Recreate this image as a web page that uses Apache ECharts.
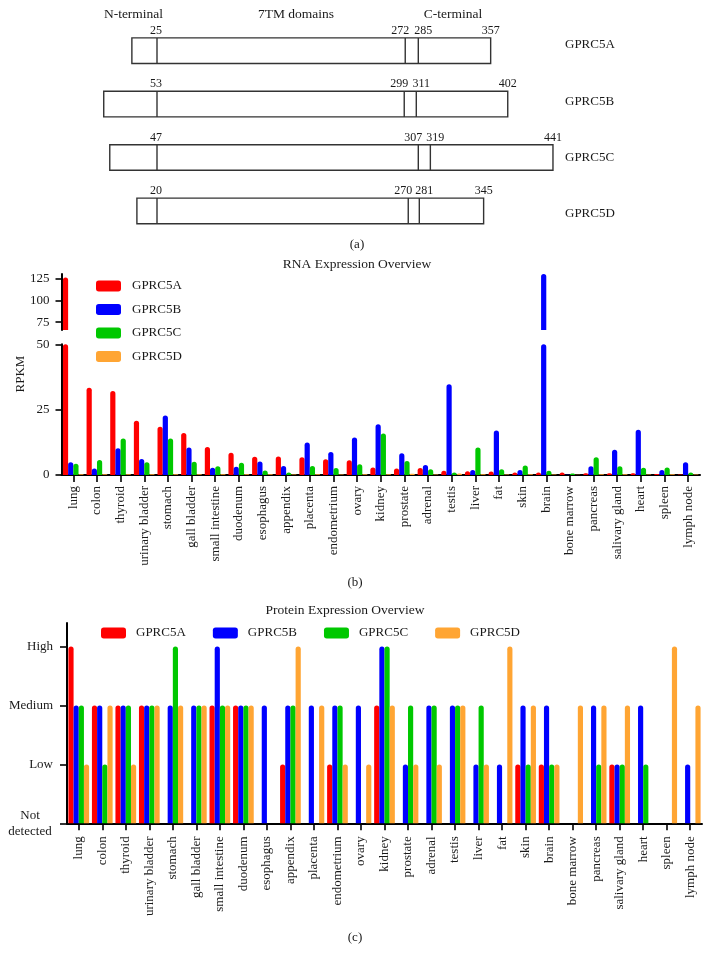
<!DOCTYPE html>
<html><head><meta charset="utf-8">
<script src="https://cdn.jsdelivr.net/npm/echarts@6/dist/echarts.min.js"></script>
<style>html,body{margin:0;padding:0;background:#fff}#c{width:716px;height:964px}</style>
</head><body><div id="c"></div>
<script>
// ---------- Panel (a) data ----------
const proteins = ['GPRC5A', 'GPRC5B', 'GPRC5C', 'GPRC5D'];
const nTermEnd = [25, 53, 47, 20];
const tmEnd = [272, 299, 307, 270];
const cTermStart = [285, 311, 319, 281];
const proteinLength = [357, 402, 441, 345];
const domainHeaders = ['N-terminal', '7TM domains', 'C-terminal'];

// ---------- Shared categories ----------
const tissues = ['lung','colon','thyroid','urinary bladder','stomach','gall bladder','small intestine','duodenum','esophagus','appendix','placenta','endometrium','ovary','kidney','prostate','adrenal','testis','liver','fat','skin','brain','bone marrow','pancreas','salivary gland','heart','spleen','lymph node'];

// ---------- Panel (b) RNA (RPKM) ----------
const rnaA = [126, 33.4, 32.1, 20.8, 18.5, 16.1, 10.7, 8.5, 7.0, 7.1, 6.8, 6.0, 5.6, 2.9, 2.5, 2.7, 1.6, 1.4, 1.3, 1.0, 1.0, 1.0, 0.7, 0.7, 0.7, 0.4, 0.2];
const rnaB = [4.9, 2.5, 10.2, 6.1, 22.8, 10.5, 2.8, 3.2, 5.2, 3.4, 12.4, 8.8, 14.3, 19.4, 8.3, 3.8, 34.7, 1.9, 17.0, 1.9, 130, 0.1, 3.3, 9.7, 17.3, 1.9, 4.9];
const rnaC = [4.3, 5.7, 14.0, 4.9, 14.0, 5.1, 3.3, 4.7, 1.7, 1.0, 3.4, 2.7, 4.1, 15.9, 5.4, 2.2, 1.0, 10.5, 2.2, 3.6, 1.6, 0.6, 6.8, 3.3, 2.8, 2.9, 1.0];
const rnaD = [0.3, 0.3, 0.3, 0.3, 0.3, 0.3, 0.3, 0.3, 0.3, 0.2, 0.3, 0.2, 0.3, 0.3, 0.5, 0.2, 0.6, 0.3, 0.2, 0.3, 0.2, 0.1, 0.3, 0.3, 0.2, 0.3, 0.2];
const rnaUpperTicks = [75, 100, 125];

// ---------- Panel (c) protein level (0 ND,1 Low,2 Medium,3 High) ----------
const levelNames = ['Not detected', 'Low', 'Medium', 'High'];
const protA = [3,2,2,2,0,0,2,2,0,1,0,1,0,2,0,0,0,0,0,1,1,0,0,1,0,0,0];
const protB = [2,2,2,2,2,2,3,2,2,2,2,2,2,3,1,2,2,1,1,2,2,0,2,1,2,0,1];
const protC = [2,1,2,2,3,2,2,2,0,2,0,2,0,3,2,2,2,2,0,1,1,0,1,1,1,0,0];
const protD = [1,2,1,2,2,2,2,2,0,3,2,1,1,2,1,1,2,1,3,2,1,2,2,2,0,3,2];

const seriesNames = ['GPRC5A', 'GPRC5B', 'GPRC5C', 'GPRC5D'];
const colors = ['#ff0000', '#0000ff', '#00c800', '#ffa533'];

const FONT = '"Liberation Serif", "Times New Roman", serif';
const TXT = '#1a1a1a';

const chart = echarts.init(document.getElementById('c'), null, {renderer: 'canvas'});

const axisLineStyle = {show: true, lineStyle: {color: '#000', width: 2}};
const tickStyle = {show: true, length: 6, lineStyle: {color: '#000', width: 1.6}};

function rnaSeries(data, i, axisIdx) {
  return {
    type: 'bar', name: seriesNames[i], data: data,
    xAxisIndex: axisIdx, yAxisIndex: axisIdx,
    barGap: '0%', barCategoryGap: '12%',
    itemStyle: {color: colors[i], borderRadius: [3, 3, 0, 0]},
    clip: true, silent: true
  };
}
const rnaData = [rnaA, rnaB, rnaC, rnaD];
const protData = [protA, protB, protC, protD];

const series = [];
// Panel (a) custom
series.push({
  type: 'custom', xAxisIndex: 0, yAxisIndex: 0, silent: true,
  encode: {x: 4, y: 0},
  data: proteins.map((p, i) => [i, nTermEnd[i], tmEnd[i], cTermStart[i], proteinLength[i]]),
  renderItem: function (params, api) {
    const idx = api.value(0);
    const off = api.value(1);
    const cy = api.coord([0, idx])[1];
    const h = api.size([0, 1])[1] * 0.48;
    const top = cy - h / 2;
    const X = v => api.coord([v - off, idx])[0];
    const x0 = X(0), x1 = X(api.value(1)), x2 = X(api.value(2)), x3 = X(api.value(3)), x4 = X(api.value(4));
    const ls = {stroke: '#333', lineWidth: 1.4};
    const t = (val, px, dx) => ({type: 'text', style: {text: String(val), x: px + dx, y: top - 7, align: 'center', verticalAlign: 'middle', fontSize: 12, fontFamily: FONT, fill: TXT}});
    return {type: 'group', children: [
      {type: 'rect', shape: {x: x0, y: top, width: x4 - x0, height: h}, style: {stroke: '#333', lineWidth: 1.4, fill: '#fff'}},
      {type: 'line', shape: {x1: x1, y1: top, x2: x1, y2: top + h}, style: ls},
      {type: 'line', shape: {x1: x2, y1: top, x2: x2, y2: top + h}, style: ls},
      {type: 'line', shape: {x1: x3, y1: top, x2: x3, y2: top + h}, style: ls},
      t(api.value(1), x1, -1), t(api.value(2), x2, -5), t(api.value(3), x3, 5), t(api.value(4), x4, 0)
    ]};
  }
});
// Panel (b) top (broken part) and bottom
rnaData.forEach((d, i) => series.push(rnaSeries(d, i, 2)));
rnaData.forEach((d, i) => series.push(rnaSeries(d, i, 3)));
// Panel (c)
protData.forEach((d, i) => series.push({
  type: 'bar', name: seriesNames[i], data: d,
  xAxisIndex: 4, yAxisIndex: 4,
  barGap: '0%', barCategoryGap: '12%',
  itemStyle: {color: colors[i], borderRadius: [3, 3, 0, 0]},
  silent: true
}));

const catLabel = (margin) => ({show: true, rotate: 90, interval: 0, margin: margin, fontSize: 13, fontFamily: FONT, color: TXT});

const option = {
  backgroundColor: '#fff',
  animation: false,
  textStyle: {fontFamily: FONT},
  grid: [
    {left: 96.7, width: 462.3, top: 24, height: 213.6, containLabel: false, outerBoundsMode: 'none'},
    {left: 556, width: 1, top: 16.5, height: 225.6, containLabel: false, outerBoundsMode: 'none'},
    {left: 61.5, width: 638.5, top: 274, height: 56, containLabel: false, outerBoundsMode: 'none'},
    {left: 61.5, width: 638.5, top: 344.3, height: 130.7, containLabel: false, outerBoundsMode: 'none'},
    {left: 67, width: 635, top: 623, height: 200.3, containLabel: false, outerBoundsMode: 'none'}
  ],
  xAxis: [
    {gridIndex: 0, type: 'value', min: -60, max: 400, show: false},
    {gridIndex: 1, type: 'value', min: 0, max: 1, show: false},
    {gridIndex: 2, type: 'category', data: tissues, show: false},
    {gridIndex: 3, type: 'category', data: tissues, axisLine: axisLineStyle,
      axisTick: {show: true, alignWithLabel: true, length: 7, lineStyle: {color: '#000', width: 1.6}},
      axisLabel: catLabel(11), splitLine: {show: false}},
    {gridIndex: 4, type: 'category', data: tissues, axisLine: axisLineStyle,
      axisTick: {show: true, alignWithLabel: true, length: 7, lineStyle: {color: '#000', width: 1.6}},
      axisLabel: catLabel(13), splitLine: {show: false}}
  ],
  yAxis: [
    {gridIndex: 0, type: 'category', data: proteins, inverse: true, show: false},
    {gridIndex: 1, type: 'category', data: proteins, inverse: true, position: 'right',
      axisLine: {show: false}, axisTick: {show: false}, splitLine: {show: false},
      axisLabel: {show: true, margin: 8, fontSize: 13, fontFamily: FONT, color: TXT}},
    {gridIndex: 2, type: 'value', min: 66, max: 130, axisLine: axisLineStyle,
      axisTick: Object.assign({}, tickStyle, {customValues: rnaUpperTicks}),
      axisLabel: {show: true, customValues: rnaUpperTicks, margin: 12, fontSize: 13, fontFamily: FONT, color: TXT},
      splitLine: {show: false}},
    {gridIndex: 3, type: 'value', min: 0, max: 50, interval: 25, axisLine: axisLineStyle,
      axisTick: tickStyle,
      axisLabel: {show: true, margin: 12, fontSize: 13, fontFamily: FONT, color: TXT},
      splitLine: {show: false}},
    {gridIndex: 4, type: 'value', min: 0, max: 3.4, axisLine: axisLineStyle,
      axisTick: Object.assign({}, tickStyle, {length: 7, customValues: [0, 1, 2, 3]}),
      axisLabel: {show: true, customValues: [0, 1, 2, 3], margin: 14, fontSize: 13, fontFamily: FONT, color: TXT,
        formatter: v => v === 0 ? '{nd|Not\ndetected}' : levelNames[v],
        rich: {nd: {width: 46, align: 'center', fontSize: 13, lineHeight: 16, fontFamily: FONT, color: TXT}}},
      splitLine: {show: false}}
  ],
  legend: [
    {orient: 'vertical', left: 96, top: 279.5, padding: 0, itemWidth: 25, itemHeight: 11, itemGap: 10.5, icon: 'roundRect',
      data: seriesNames, selectedMode: false,
      textStyle: {fontSize: 13, fontFamily: FONT, color: TXT, padding: [0, 0, 0, 6]}},
    {orient: 'horizontal', left: 101, top: 626.5, padding: 0, itemWidth: 25, itemHeight: 11, itemGap: 27, icon: 'roundRect',
      data: seriesNames, selectedMode: false,
      textStyle: {fontSize: 13, fontFamily: FONT, color: TXT, padding: [0, 0, 0, 5]}}
  ],
  graphic: [
    {type: 'text', x: 133.5, y: 14, style: {text: domainHeaders[0], align: 'center', verticalAlign: 'middle', fontSize: 13.5, fontFamily: FONT, fill: TXT}},
    {type: 'text', x: 296, y: 14, style: {text: domainHeaders[1], align: 'center', verticalAlign: 'middle', fontSize: 13.5, fontFamily: FONT, fill: TXT}},
    {type: 'text', x: 453, y: 14, style: {text: domainHeaders[2], align: 'center', verticalAlign: 'middle', fontSize: 13.5, fontFamily: FONT, fill: TXT}},
    {type: 'text', x: 357, y: 245, style: {text: '(a)', align: 'center', verticalAlign: 'middle', fontSize: 13, fontFamily: FONT, fill: TXT}},
    {type: 'text', x: 357, y: 264, style: {text: 'RNA Expression Overview', align: 'center', verticalAlign: 'middle', fontSize: 13.5, fontFamily: FONT, fill: TXT}},
    {type: 'text', x: 21, y: 374, rotation: Math.PI / 2, style: {text: 'RPKM', align: 'center', verticalAlign: 'middle', fontSize: 13, fontFamily: FONT, fill: TXT}},
    {type: 'text', x: 355, y: 583, style: {text: '(b)', align: 'center', verticalAlign: 'middle', fontSize: 13, fontFamily: FONT, fill: TXT}},
    {type: 'text', x: 345, y: 610, style: {text: 'Protein Expression Overview', align: 'center', verticalAlign: 'middle', fontSize: 13.5, fontFamily: FONT, fill: TXT}},
    {type: 'text', x: 355, y: 938, style: {text: '(c)', align: 'center', verticalAlign: 'middle', fontSize: 13, fontFamily: FONT, fill: TXT}}
  ],
  series: series
};
chart.setOption(option);
</script>
</body></html>
